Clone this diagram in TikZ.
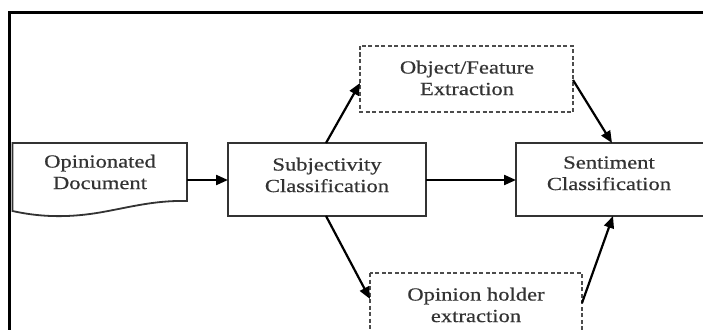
\documentclass[tikz,border=0pt]{standalone}
\usepackage{fontspec}
\setmainfont{Liberation Serif}
\newfontfamily\lblfont[FakeBold=0.5]{Liberation Serif}
\usepackage{graphicx}
\usetikzlibrary{arrows.meta}
\newcommand{\twol}[2]{\scalebox{1.22}[1]{\begin{tabular}{@{}c@{}}#1\\#2\end{tabular}}}
\begin{document}
\begin{tikzpicture}[x=1pt,y=-1pt,
  lbl/.style={inner sep=0pt, text=black!80, font=\lblfont\fontsize{18.5}{21.5}\selectfont},
  solidbox/.style={draw=black!80, line width=1.8pt},
  dashbox/.style={draw=black!70, line width=1.6pt, dash pattern=on 4pt off 2.5pt},
  arr/.style={draw=black, line width=2.2pt, -{Triangle[length=12pt,width=10pt]}}]
\useasboundingbox (0,0) rectangle (703,329);
\fill[white] (0,0) rectangle (703,329);
% outer frame
\draw[line width=2.4pt] (9.5,340) -- (9.5,12.5) -- (710,12.5);
% document shape
\draw[solidbox] (12.5,211) -- (12.5,143) -- (187,143) -- (187,201)
  .. controls (150,200) and (120,210) .. (90,214)
  .. controls (60,218) and (35,216) .. (12.5,211) -- cycle;
\node[lbl] (doc) at (100,174) {\twol{Opinionated}{Document}};
\coordinate (docR) at (187,180);
% boxes
\draw[solidbox] (228,143) rectangle (426,216);
\node[lbl] (subj) at (327,177) {\twol{Subjectivity}{Classification}};
\coordinate (subjL) at (228,180);
\coordinate (subjR) at (426,180);
\coordinate (subjT) at (326,143);
\coordinate (subjB) at (326,216);
\draw[solidbox] (516,143) rectangle (720,216);
\node[lbl] (sent) at (609,175) {\twol{Sentiment}{Classification}};
\coordinate (sentL) at (516,180);
\coordinate (sentT) at (612,143);
\coordinate (sentB) at (613,216);
\draw[dashbox] (360,46) rectangle (573,112);
\node[lbl] (obj) at (467,80) {\twol{Object/Feature}{Extraction}};
\coordinate (objL) at (360,83);
\coordinate (objR) at (573,80);
\draw[dashbox] (370,273) rectangle (582,345);
\node[lbl] (hold) at (476,307) {\twol{Opinion holder}{extraction}};
\coordinate (holdL) at (370,299);
\coordinate (holdR) at (582,303);
% arrows
\draw[arr] (docR) -- (subjL);
\draw[arr] (subjR) -- (sentL);
\draw[arr] (subjT) -- (objL);
\draw[arr] (objR) -- (sentT);
\draw[arr] (subjB) -- (holdL);
\draw[arr] (holdR) -- (sentB);
\end{tikzpicture}
\end{document}
